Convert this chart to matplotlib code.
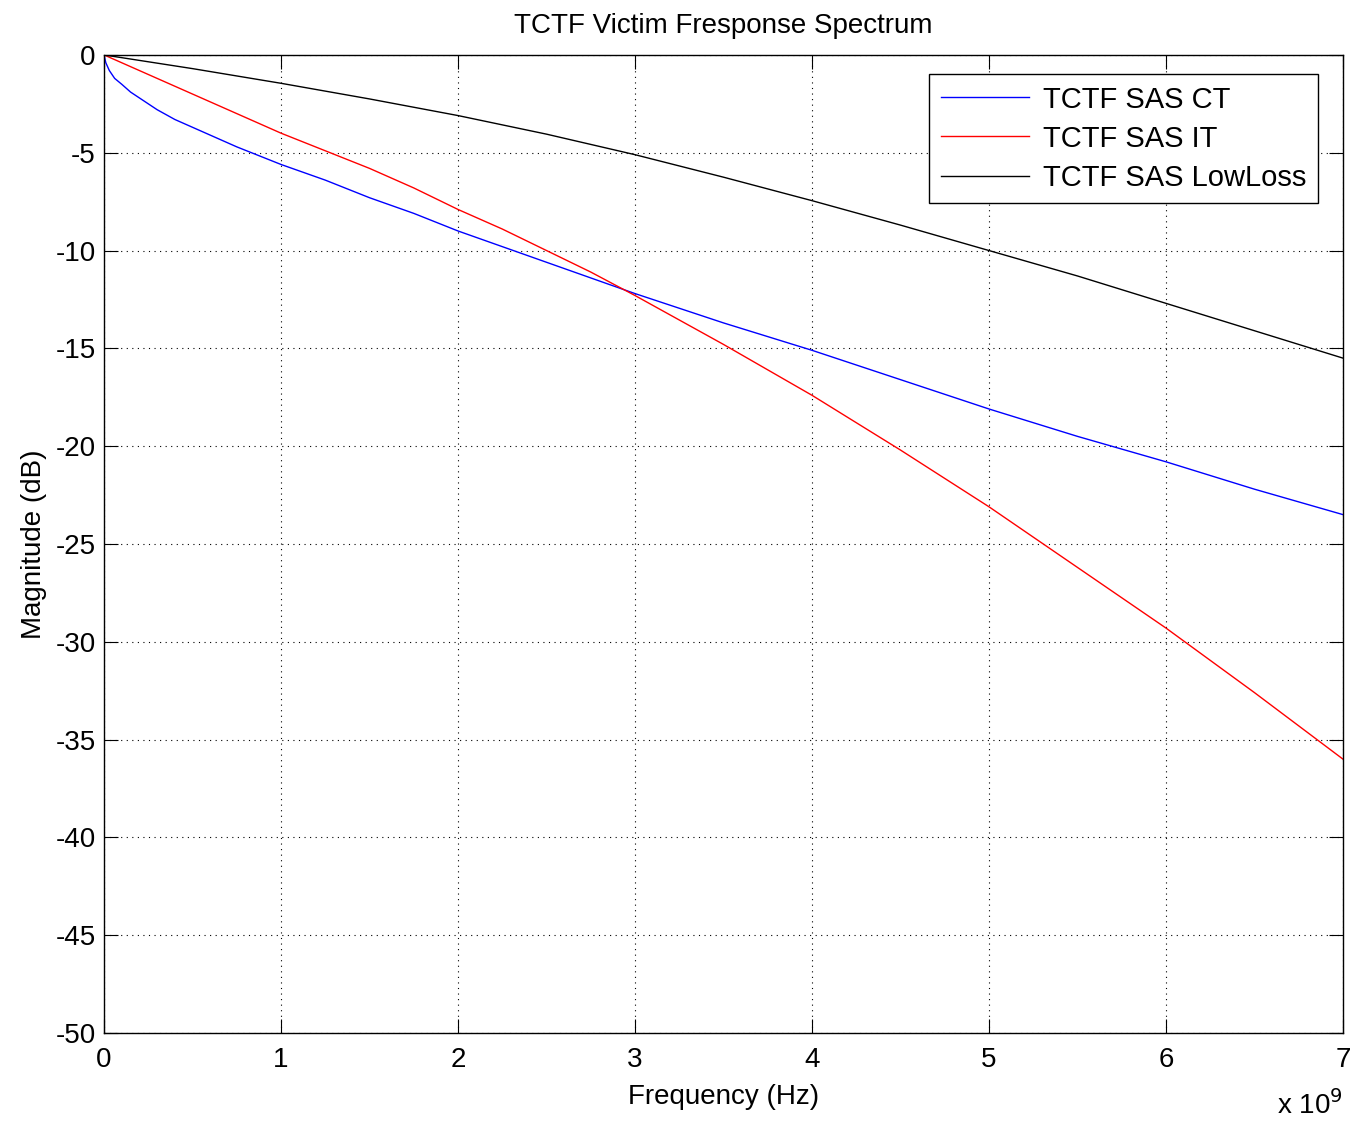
import numpy as np
import matplotlib.pyplot as plt

# frequency points (Hz) and magnitudes (dB)
freq_ct = [0, 0.01e9, 0.03e9, 0.06e9, 0.1e9, 0.15e9, 0.2e9, 0.3e9, 0.4e9, 0.5e9, 0.75e9,
           1.0e9, 1.25e9, 1.5e9, 1.75e9, 2.0e9, 2.5e9, 3.0e9, 3.5e9, 4.0e9, 4.5e9,
           5.0e9, 5.5e9, 6.0e9, 6.5e9, 7.0e9]
mag_ct = [0, -0.4, -0.8, -1.2, -1.5, -1.9, -2.2, -2.8, -3.3, -3.7, -4.7,
          -5.6, -6.4, -7.3, -8.1, -9.0, -10.6, -12.2, -13.7, -15.1, -16.6,
          -18.1, -19.5, -20.8, -22.2, -23.5]

freq_it = [0, 0.25e9, 0.5e9, 0.75e9, 1.0e9, 1.25e9, 1.5e9, 1.75e9, 2.0e9, 2.25e9,
           2.5e9, 2.75e9, 3.0e9, 3.5e9, 4.0e9, 4.5e9, 5.0e9, 5.5e9, 6.0e9, 6.5e9, 7.0e9]
mag_it = [0, -1.0, -2.0, -3.0, -4.0, -4.9, -5.8, -6.8, -7.9, -8.9,
          -10.0, -11.1, -12.3, -14.8, -17.4, -20.2, -23.1, -26.2, -29.3, -32.6, -36.0]

freq_ll = [0, 0.5e9, 1.0e9, 1.5e9, 2.0e9, 2.5e9, 3.0e9, 3.5e9, 4.0e9, 4.5e9,
           5.0e9, 5.5e9, 6.0e9, 6.5e9, 7.0e9]
mag_ll = [0, -0.7, -1.45, -2.25, -3.1, -4.05, -5.1, -6.25, -7.45, -8.7,
          -10.0, -11.3, -12.7, -14.1, -15.5]

labels = ['TCTF SAS CT', 'TCTF SAS IT', 'TCTF SAS LowLoss']

plt.rcParams['font.family'] = ['Liberation Sans', 'DejaVu Sans']
plt.rcParams['axes.unicode_minus'] = False

fig = plt.figure(figsize=(13.53, 11.21), dpi=100)
ax = fig.add_axes([0.0769, 0.0785, 0.9157, 0.8725])

ax.plot(freq_ct, mag_ct, color='#0000ff', lw=1.0, label=labels[0])
ax.plot(freq_it, mag_it, color='#ff0000', lw=1.0, label=labels[1])
ax.plot(freq_ll, mag_ll, color='black', lw=1.0, label=labels[2])

ax.set_xlim(0, 7e9)
ax.set_ylim(-50, 0)
ax.set_xticks(np.arange(0, 8) * 1e9)
ax.set_yticks(np.arange(-50, 1, 5))
ax.set_xticklabels([str(i) for i in range(8)])
ax.grid(True, color='black', linestyle=(0, (1, 4)), linewidth=0.8)
ax.tick_params(direction='in', top=True, right=True, labelsize=20, length=10)
ax.tick_params(axis='x', pad=10)
ax.tick_params(axis='y', pad=6)
for s in ax.spines.values():
    s.set_linewidth(1.0)

ax.text(1.0, -0.058, r'x 10$^{9}$', transform=ax.transAxes, ha='right', va='top', fontsize=20)

ax.set_xlabel('Frequency (Hz)', fontsize=20, labelpad=8)
ax.set_ylabel('Magnitude (dB)', fontsize=20, labelpad=6)
ax.set_title('TCTF Victim Fresponse Spectrum', fontsize=20, pad=16)

leg = ax.legend(loc='upper right', bbox_to_anchor=(0.98, 0.9806), borderaxespad=0,
                fontsize=21, handlelength=3.0, fancybox=False, edgecolor='black',
                framealpha=1, borderpad=0.4, labelspacing=0.38, handletextpad=0.5)
leg.get_frame().set_linewidth(1.0)

fig.savefig('out.png', dpi=100)
